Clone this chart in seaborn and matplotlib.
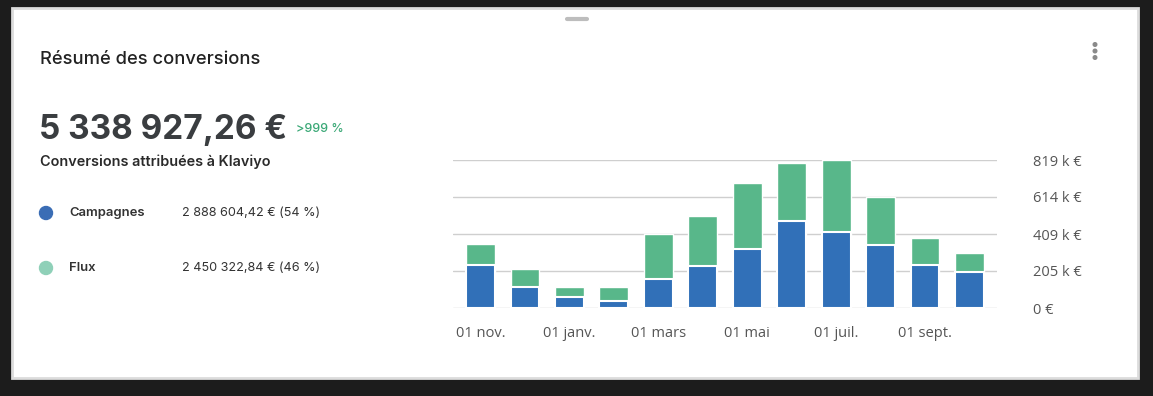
import numpy as np
import pandas as pd
import seaborn as sns
import matplotlib.pyplot as plt
from matplotlib.patches import FancyBboxPatch, Ellipse

# données (en euros)
mois = ["nov.", "déc.", "janv.", "févr.", "mars", "avr.", "mai", "juin", "juil.", "août", "sept.", "oct."]
campagnes = [238000, 118000, 59000, 40000, 159000, 232000, 325000, 481000, 422000, 347000, 238000, 198000]
flux = [116000, 96000, 59000, 74000, 249000, 275000, 365000, 320000, 397000, 266000, 149000, 106000]
xtick_labels = ["01 nov.", "01 janv.", "01 mars", "01 mai", "01 juil.", "01 sept."]
ytick_values = [0, 204750, 409500, 614250, 819000]
ytick_labels = ["0 €", "205 k €", "409 k €", "614 k €", "819 k €"]

total = [c + f for c, f in zip(campagnes, flux)]
df = pd.DataFrame({"mois": mois, "campagnes": campagnes, "total": total})

BLUE = "#3170b8"
GREEN = "#58b78a"

sns.set_theme(style="white")
plt.rcParams['font.family'] = ['Open Sans', 'DejaVu Sans']

fig = plt.figure(figsize=(11.53, 3.96), dpi=100)
fig.patch.set_facecolor("#1c1c1c")

# carte blanche
W, H = 1153, 396
card = FancyBboxPatch((12 / W, 1 - 378 / H), (1138 - 12) / W, (378 - 8) / H,
                      boxstyle="square,pad=0", transform=fig.transFigure,
                      facecolor="white", edgecolor="#dcdcdc", linewidth=2, zorder=-5)
fig.patches.append(card)

# poignée + menu
fig.add_artist(plt.Line2D([567 / W, 587 / W], [1 - 19 / H, 1 - 19 / H], transform=fig.transFigure,
                          color="#bdbdbd", linewidth=3, solid_capstyle="round"))
for yy in [44.5, 51, 57.5]:
    fig.add_artist(Ellipse((1095 / W, 1 - yy / H), 3.6 / W, 3.6 / H, transform=fig.transFigure,
                           color="#8a8a8a"))

# textes de gauche
fig.text(40 / W, 1 - 60 / H, "Résumé des conversions", fontsize=13.2, fontweight="medium", color="#222222",
         family=["Inter", "DejaVu Sans"], va="center", ha="left")
fig.text(39 / W, 1 - 130 / H, "5 338 927,26 €", fontsize=24, fontweight="bold", color="#3a3d40",
         family=["Inter", "DejaVu Sans"], va="center", ha="left")
fig.text(296 / W, 1 - 129 / H, ">999 %", fontsize=9, fontweight="medium", color="#3aa876",
         family=["Inter", "DejaVu Sans"], va="center", ha="left")
fig.text(40 / W, 1 - 162 / H, "Conversions attribuées à Klaviyo", fontsize=10.4, fontweight="semibold",
         color="#2a2a2a", family=["Inter", "DejaVu Sans"], va="center", ha="left")

legend_rows = [("Campagnes", "2 888 604,42 € (54 %)", "#3a6db5", 213),
               ("Flux", "2 450 322,84 € (46 %)", "#8fd0b8", 268)]
for name, val, col, yy in legend_rows:
    fig.add_artist(Ellipse((46 / W, 1 - yy / H), 13 / W, 13 / H, transform=fig.transFigure, color=col))
    fig.text(69 / W, 1 - yy / H, name, fontsize=9.4, fontweight="semibold", color="#333333",
             family=["Inter", "DejaVu Sans"], va="center", ha="left")
    fig.text(182 / W, 1 - yy / H, val, fontsize=9.1, color="#333333",
             family=["Inter", "DejaVu Sans"], va="center", ha="left")

# graphique
ax = fig.add_axes([453 / W, 1 - 308 / H, (997 - 453) / W, (308 - 160) / H])
ax.set_facecolor("none")
sns.barplot(data=df, x="mois", y="total", color=GREEN, width=0.65, saturation=1, ax=ax, zorder=3)
sns.barplot(data=df, x="mois", y="campagnes", color=BLUE, width=0.65, saturation=1, ax=ax,
            edgecolor="white", linewidth=1.5, zorder=4)

ax.set_xlim(-0.62, 11.62)
ax.set_ylim(0, 819000)
ax.set_yticks(ytick_values)
ax.set_yticklabels(ytick_labels)
ax.yaxis.tick_right()
ax.set_xticks(range(0, 12, 2))
ax.set_xticklabels(xtick_labels)
ax.tick_params(axis="y", length=0, pad=26, labelsize=10.5, labelcolor="#555555")
ax.tick_params(axis="x", length=0, pad=13, labelsize=10.5, labelcolor="#555555")
ax.grid(axis="y", color="#cfcfcf", linewidth=1, zorder=0)
ax.set_axisbelow(True)
for s in ax.spines.values():
    s.set_visible(False)
ax.set_xlabel("")
ax.set_ylabel("")

fig.savefig("out.png", dpi=100, facecolor=fig.get_facecolor())
